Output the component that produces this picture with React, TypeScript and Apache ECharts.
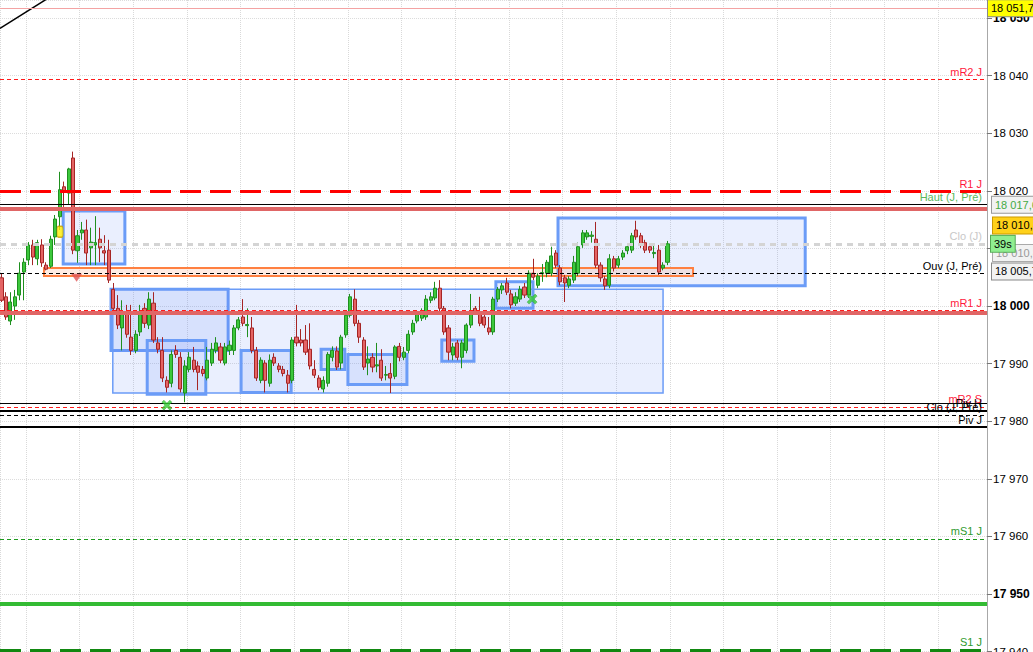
import { useEffect, useRef } from 'react';
import * as echarts from 'echarts';

const FONT = '"Liberation Sans", Arial, sans-serif';

// ---- candles (5-min bars), index 0..149 ----
const candleOpen = [
  18004.9, 18001.6, 17997.4, 18000.0, 18001.9, 18005.9, 18008.0, 18010.6, 18008.2, 18010.6,
  18007.1, 18006.9, 18012.0, 18015.5, 18020.7, 18019.6, 18025.7, 18009.6, 18012.7, 18013.2,
  18010.1, 18010.6, 18011.6, 18009.6, 18009.7, 18002.9, 17999.6, 17996.2, 17999.0, 17994.6,
  17992.3, 17995.5, 17999.6, 17996.7, 18000.5, 17993.6, 17992.3, 17987.1, 17986.6, 17992.3,
  17991.1, 17984.9, 17989.0, 17990.6, 17989.6, 17989.0, 17987.5, 17990.1, 17992.3, 17992.9,
  17990.1, 17992.3, 17992.3, 17996.2, 17998.1, 17996.6, 17996.2, 17992.3, 17987.1, 17990.1,
  17986.6, 17991.1, 17989.6, 17989.0, 17988.0, 17987.1, 17994.6, 17994.1, 17994.1, 17992.5,
  17989.0, 17987.5, 17985.6, 17986.6, 17991.1, 17992.2, 17990.1, 17995.0, 17998.4, 18001.2,
  17997.0, 17994.1, 17990.1, 17991.1, 17989.6, 17990.6, 17988.0, 17988.3, 17987.8, 17993.0,
  17991.1, 17992.3, 17995.5, 17997.4, 17997.9, 17998.1, 18001.0, 18001.4, 18003.1, 17999.6,
  17996.2, 17991.5, 17993.6, 17991.1, 17992.3, 17996.7, 17999.6, 17998.8, 17998.1, 17996.2,
  17995.5, 18001.2, 18002.8, 18004.0, 18002.1, 18000.5, 18001.2, 18003.3, 18001.9, 18005.7,
  18003.6, 18005.6, 18005.7, 18005.7, 18009.2, 18006.6, 18004.9, 18003.6, 18004.5, 18005.7,
  18010.6, 18012.0, 18012.1, 18011.6, 18007.1, 18004.7, 18003.6, 18008.2, 18007.1, 18008.5,
  18009.6, 18009.7, 18013.2, 18012.2, 18011.0, 18010.3, 18009.1, 18009.7, 18006.6, 18007.6,
];
const candleClose = [
  18001.0, 17998.1, 18000.7, 18001.6, 18005.7, 18007.6, 18010.6, 18008.5, 18011.0, 18007.5,
  18006.4, 18011.6, 18015.1, 18020.2, 18020.0, 18023.8, 18009.7, 18012.2, 18013.2, 18009.2,
  18011.1, 18011.0, 18010.1, 18009.2, 18004.5, 17999.6, 17996.7, 17999.0, 17995.1, 17992.3,
  17995.1, 17999.0, 17997.0, 18001.2, 17994.1, 17992.5, 17987.5, 17985.9, 17991.6, 17991.6,
  17985.6, 17989.6, 17991.1, 17989.0, 17988.5, 17988.3, 17990.6, 17992.5, 17993.6, 17990.6,
  17992.9, 17993.2, 17996.2, 17997.6, 17997.0, 17996.8, 17992.3, 17987.5, 17990.6, 17987.1,
  17990.6, 17990.1, 17989.0, 17988.3, 17986.6, 17994.1, 17993.6, 17993.6, 17992.0, 17989.6,
  17988.0, 17985.9, 17987.1, 17991.6, 17992.3, 17989.4, 17994.6, 17998.4, 18001.6, 17997.0,
  17994.6, 17989.4, 17990.8, 17989.4, 17989.8, 17987.5, 17988.1, 17987.5, 17992.9, 17991.1,
  17992.0, 17995.1, 17997.0, 17998.6, 17999.0, 18001.2, 18001.6, 18003.1, 17999.6, 17995.5,
  17992.0, 17992.9, 17991.1, 17993.6, 17996.7, 17999.0, 17999.0, 17997.0, 17996.7, 17995.5,
  18001.2, 18002.9, 18003.5, 18002.4, 18000.2, 18001.6, 18002.9, 18001.9, 18005.7, 18005.0,
  18005.2, 18005.8, 18007.6, 18008.7, 18007.1, 18004.2, 18004.0, 18004.7, 18007.6, 18010.3,
  18012.7, 18012.7, 18012.3, 18007.1, 18004.9, 18003.5, 18008.2, 18006.6, 18008.2, 18009.2,
  18010.3, 18012.2, 18012.0, 18010.6, 18009.7, 18009.7, 18009.3, 18005.9, 18007.1, 18010.8,
];
const candleLow = [
  18000.7, 17997.6, 17996.7, 17997.6, 18001.0, 18001.0, 18007.1, 18007.1, 18007.1, 18006.8,
  18006.2, 18006.6, 18010.6, 18013.2, 18017.2, 18017.6, 18009.0, 18007.5, 18011.5, 18007.1,
  18007.1, 18007.1, 18007.6, 18007.1, 18004.0, 17999.0, 17996.0, 17992.3, 17994.5, 17991.5,
  17991.8, 17994.8, 17996.2, 17996.0, 17993.6, 17991.8, 17986.8, 17985.0, 17985.9, 17991.0,
  17985.0, 17983.3, 17988.5, 17988.5, 17985.4, 17987.8, 17987.1, 17989.6, 17991.8, 17990.1,
  17989.7, 17991.5, 17991.5, 17995.8, 17996.5, 17994.6, 17991.8, 17987.0, 17986.6, 17985.0,
  17986.0, 17989.6, 17988.5, 17987.8, 17985.0, 17986.6, 17993.0, 17993.0, 17991.5, 17989.0,
  17987.5, 17985.4, 17985.0, 17986.0, 17990.4, 17988.9, 17989.0, 17994.5, 17998.0, 17996.5,
  17993.6, 17988.9, 17988.0, 17988.5, 17988.5, 17987.0, 17987.1, 17984.9, 17987.3, 17990.4,
  17990.6, 17991.8, 17995.0, 17997.0, 17997.4, 17997.6, 18000.5, 18001.0, 17999.0, 17995.0,
  17990.6, 17990.6, 17990.6, 17989.2, 17991.8, 17996.2, 17998.6, 17996.5, 17996.2, 17995.0,
  17995.0, 18000.7, 18002.1, 18001.9, 17999.6, 18000.0, 18000.7, 18001.4, 18001.4, 18004.5,
  18003.1, 18004.2, 18005.0, 18005.2, 18006.6, 18003.6, 18000.7, 18003.1, 18004.0, 18005.2,
  18010.1, 18011.5, 18011.0, 18006.6, 18004.2, 18002.8, 18003.1, 18006.0, 18006.6, 18008.0,
  18009.0, 18009.2, 18011.5, 18010.1, 18009.2, 18009.2, 18008.3, 18005.4, 18006.2, 18007.1,
];
const candleHigh = [
  18005.7, 18002.4, 18002.4, 18002.8, 18007.6, 18008.3, 18011.1, 18011.5, 18011.5, 18011.6,
  18007.6, 18012.2, 18015.8, 18023.3, 18021.6, 18024.0, 18026.8, 18013.2, 18014.6, 18015.0,
  18013.6, 18015.6, 18013.6, 18012.3, 18011.5, 18004.0, 18001.9, 18001.0, 18000.2, 18000.2,
  17995.8, 18000.2, 18000.5, 18002.4, 18002.4, 17994.6, 17994.6, 17987.8, 17992.3, 17993.2,
  17992.0, 17990.6, 17992.0, 17992.9, 17990.4, 17989.6, 17992.9, 17993.6, 17994.6, 17993.6,
  17993.6, 17994.0, 17996.7, 17998.1, 18001.2, 17999.6, 17998.1, 17992.9, 17991.1, 17990.6,
  17991.6, 17991.8, 17990.1, 17989.6, 17988.9, 17994.6, 18000.2, 17996.0, 17996.7, 17997.0,
  17990.6, 17988.0, 17987.8, 17992.0, 17993.0, 17993.0, 17995.0, 17999.0, 18002.1, 18002.9,
  17997.6, 17994.6, 17993.0, 17991.8, 17993.6, 17992.5, 17989.6, 17990.1, 17993.2, 17993.6,
  17992.9, 17995.8, 17997.6, 17999.3, 17999.6, 18001.9, 18002.4, 18004.2, 18004.5, 18000.0,
  17996.7, 17993.6, 17994.1, 17994.1, 17997.0, 18002.1, 18000.0, 18001.6, 17998.6, 17998.1,
  18001.6, 18003.3, 18004.0, 18004.9, 18002.8, 18002.4, 18003.5, 18004.0, 18006.2, 18008.2,
  18005.7, 18007.3, 18008.0, 18010.3, 18009.7, 18007.1, 18005.4, 18005.2, 18008.7, 18011.0,
  18013.2, 18013.2, 18013.0, 18014.6, 18007.6, 18005.2, 18009.0, 18008.7, 18008.7, 18009.7,
  18010.8, 18012.7, 18014.8, 18012.7, 18011.5, 18010.8, 18010.6, 18010.6, 18007.6, 18011.3,
];

// ---- horizontal levels ----
const levelValues = [18051.7, 18039.3, 18019.9, 18017.6, 18016.8, 18010.8, 18005.7, 17999.3, 17998.8,
  17983.2, 17982.5, 17981.8, 17981.1, 17979.0, 17959.6, 17948.3, 17940.3];
const levelLabels = ['', 'mR2 J', 'R1 J', 'Haut (J, Pré)', '', 'Clo (J)', 'Ouv (J, Pré)', 'mR1 J', '',
  '', 'mR2 S', 'Piv H', 'Clo (J, Pré)', 'Piv J', 'mS1 J', '', 'S1 J'];

// ---- price tags on the axis ----
const tagValues = [18051.7, 18017.6, 18009.2, 18010.8, 18014.0, 18006.0];
const tagTexts = ['18 051,7', '18 017,6', '18 010,8', '39s', '18 010,8', '18 005,7'];

// ---- zones (bar index range, price range) ----
const zoneX0 = [13.8, 24.5, 24.9, 32.6, 53.6, 71.5, 77.5, 98.5, 110.6, 124.5, 9.5];
const zoneX1 = [27.6, 50.7, 148.0, 45.7, 64.8, 76.8, 90.7, 105.7, 118.9, 179.8, 154.7];
const zoneTop = [18016.5, 18002.9, 18002.9, 17994.0, 17992.3, 17992.5, 17991.6, 17994.1, 18004.2, 18015.3, 18006.6];
const zoneBottom = [18007.3, 17992.3, 17984.9, 17984.7, 17985.0, 17989.0, 17986.4, 17990.4, 17999.6, 18003.5, 18005.2];

// ---- trend line & markers ----
const trendX = [-0.34, 12];
const trendY = [18048.2, 18054.2];
const markerX = [16.8, 37.0, 118.7, 13.1];
const markerY = [18004.9, 17982.8, 18001.2, 18012.9];
const markerKind = ['down', 'cross', 'cross', 'bell'];

// ---- visible window ----
const PRICE_MIN = 17939.95;
const PRICE_MAX = 18053.12;
const BAR_SHIFT = 6.5; // hour separators fall between bars 5|6, 17|18 ...
const BAR_MIN = -0.3356 + BAR_SHIFT;
const BAR_MAX = 220.47 + BAR_SHIFT;

// ---- styles (not data) ----
const levelColors = ['#f4a3a3', '#ff1a1a', '#ff0000', '#000000', '#e06666', '#d4d4d4', '#000000', '#ff1a1a', '#e06666',
  '#000000', '#ff1a1a', '#000000', '#000000', '#000000', '#1e9a1e', '#33bb33', '#118811'];
const levelWidths = [1, 1, 3, 1, 4, 3, 1, 1, 4, 1, 1, 2, 1, 2, 1, 4, 3];
const levelDash: any[] = ['solid', [4, 3], [21, 9], 'solid', 'solid', [6, 5], [4, 3], [4, 3], 'solid',
  'solid', [4, 3], 'solid', [4, 3], 'solid', [4, 3], 'solid', [21, 9]];
const levelLabelColors = ['', '#ff1a3c', '#ff1a3c', '#5cb85c', '', '#c8c8c8', '#000000', '#ff1a3c', '',
  '', '#ff1a3c', '#000000', '#000000', '#000000', '#2e9a2e', '', '#2e9a2e'];
const tagBg = ['#ffff00', '#f2f2f2', '#f2f2f2', '#90ee90', '#ffd11a', '#f2f2f2'];
const tagFg = ['#000000', '#44aa44', '#999999', '#000000', '#000000', '#000000'];
const tagBorder = ['#888888', '#999999', '#aaaaaa', '#55aa55', '#cc9900', '#888888'];
const tagDist = [1, 5, 6, 4, 6, 5];

function fmtAxis(v: number) {
  return String(Math.round(v)).replace(/\B(?=(\d{3})+(?!\d))/g, ' ');
}

export default function App() {
  const ref = useRef<HTMLDivElement>(null);
  useEffect(() => {
    const chart = echarts.init(ref.current!, null, { renderer: 'svg' });
    const bx = (i: number) => i + BAR_SHIFT;

    const candles = candleOpen.map((o, i) => [bx(i), o, candleClose[i], candleLow[i], candleHigh[i]]);

    const levelItems = levelValues.map((v, i) => ({
      yAxis: v,
      lineStyle: { color: levelColors[i], width: levelWidths[i], type: levelDash[i] },
      label: levelLabels[i]
        ? {
            show: true,
            position: 'insideEndTop',
            formatter: levelLabels[i],
            color: levelLabelColors[i],
            fontSize: 11,
            fontFamily: FONT,
            distance: [5, 2],
          }
        : { show: false },
    }));

    const tagItems = tagValues.map((v, i) => ({
      yAxis: v,
      lineStyle: { color: 'rgba(0,0,0,0)', width: 0 },
      label: {
        show: true,
        position: 'end',
        formatter: tagTexts[i],
        distance: tagDist[i],
        color: tagFg[i],
        backgroundColor: tagBg[i],
        borderColor: tagBorder[i],
        borderWidth: 1,
        padding: [3, 3, 2, 3],
        fontSize: 11,
        fontFamily: FONT,
      },
    }));

    const zoneItems = zoneX0.map((x0, i) => {
      const orange = i === zoneX0.length - 1;
      const thin = i === 2;
      return [
        {
          xAxis: bx(x0),
          yAxis: zoneTop[i],
          itemStyle: orange
            ? { color: 'rgba(255,150,100,0.18)', borderColor: '#ff8040', borderWidth: 2 }
            : {
                color: 'rgba(90,130,250,0.13)',
                borderColor: '#6b9cf7',
                borderWidth: thin ? 1.5 : 3,
              },
        },
        { xAxis: bx(zoneX1[i]), yAxis: zoneBottom[i] },
      ];
    });

    const crossPath = 'path://M2,0 L5,3 L8,0 L10,2 L7,5 L10,8 L8,10 L5,7 L2,10 L0,8 L3,5 L0,2 Z';
    const markerData = markerX.map((x, i) => {
      const k = markerKind[i];
      const value = [bx(x), markerY[i]];
      if (k === 'down')
        return { value, symbol: 'triangle', symbolRotate: 180, symbolSize: [11, 8], itemStyle: { color: '#e05555' } };
      if (k === 'cross')
        return { value, symbol: crossPath, symbolSize: 10, itemStyle: { color: '#33cc33', borderColor: '#229922', borderWidth: 0.5 } };
      return { value, symbol: 'roundRect', symbolSize: [6, 11], itemStyle: { color: '#ffee00', borderColor: '#c8a000', borderWidth: 1 } };
    });

    chart.setOption({
      animation: false,
      backgroundColor: '#ffffff',
      grid: { left: 0, top: 0, right: 46, bottom: 0, containLabel: false, outerBoundsMode: 'none' },
      xAxis: {
        type: 'value',
        min: BAR_MIN,
        max: BAR_MAX,
        minInterval: 12,
        maxInterval: 12,
        axisLine: { show: false },
        axisTick: { show: false },
        axisLabel: { show: false },
        splitLine: { show: true, lineStyle: { type: 'dotted', color: '#d9d9d9' } },
      },
      yAxis: {
        type: 'value',
        position: 'right',
        min: PRICE_MIN,
        max: PRICE_MAX,
        minInterval: 10,
        maxInterval: 10,
        axisLine: { show: true, lineStyle: { color: '#a8a8a8' } },
        axisTick: { show: true, length: 5, lineStyle: { color: '#777777' } },
        axisLabel: {
          margin: 6,
          showMinLabel: false,
          showMaxLabel: false,
          formatter: (v: number) => (Math.round(v) % 50 === 0 ? `{b|${fmtAxis(v)}}` : `{n|${fmtAxis(v)}}`),
          rich: {
            b: { fontWeight: 'bold', fontSize: 12, color: '#000', fontFamily: FONT },
            n: { fontSize: 11.5, color: '#000', fontFamily: FONT },
          },
        },
        splitLine: { show: true, lineStyle: { type: 'dotted', color: '#dcdcdc' } },
      },
      series: [
        {
          type: 'candlestick',
          data: candles,
          barWidth: 3.6,
          itemStyle: {
            color: '#3cc83c',
            color0: '#e46464',
            borderColor: '#1f8f1f',
            borderColor0: '#a52525',
            borderWidth: 1,
          },
          markArea: { silent: true, data: zoneItems },
        },
        {
          type: 'line',
          data: trendX.map((x, i) => [bx(x), trendY[i]]),
          showSymbol: false,
          clip: false,
          lineStyle: { color: '#000', width: 1.5 },
          markLine: {
            silent: true,
            symbol: ['none', 'none'],
            data: [...levelItems, ...tagItems],
          },
        },
        {
          type: 'scatter',
          data: markerData,
          z: 6,
        },
      ],
    });
    return () => chart.dispose();
  }, []);
  return (
    <div
      ref={ref}
      style={{ position: 'absolute', left: 0, top: 0, width: 1033, height: 652, background: '#fff' }}
    />
  );
}
